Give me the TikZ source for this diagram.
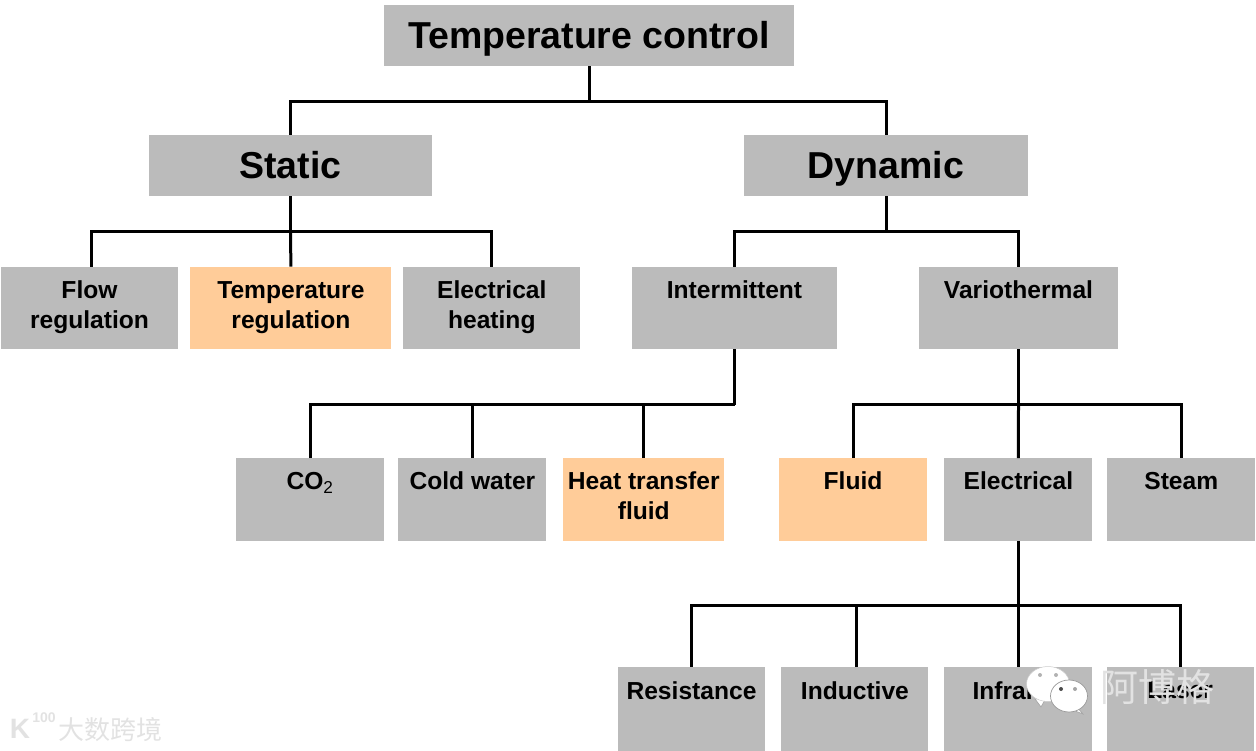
\documentclass[tikz,border=0pt]{standalone}
\usepackage{fontspec}
\setmainfont{Liberation Sans}
\newfontfamily\cjk{Noto Sans CJK SC}
\usepackage{xcolor}
\usetikzlibrary{shapes.geometric,positioning,calc}
\definecolor{boxgray}{HTML}{BBBBBB}
\definecolor{boxorange}{HTML}{FFCC99}
\definecolor{markgray}{HTML}{E2E2E2}
% extra depth keeps the lines in the upper part of the box
\newcommand{\lowstrut}{\rule[-7pt]{0pt}{0pt}}
\begin{document}
\begin{tikzpicture}[
    x=1pt, y=-1pt,
    node distance=12pt,
    box/.style={fill=boxgray, inner sep=0pt, font=\bfseries},
    hot/.style={box, fill=boxorange},
    rootbox/.style={box, minimum height=61pt, text height=27pt, text depth=0pt, font=\bfseries\fontsize{37.5}{40}\selectfont},
    leafbox/.style={minimum height=82.5pt, align=center, font=\bfseries\fontsize{24.6}{30}\selectfont},
    link/.style={draw=black, line width=3pt},
    stamp/.style={inner sep=0pt, text=markgray},
]
\useasboundingbox (0,0) rectangle (1256,751);

\node[rootbox, minimum width=410pt] (control) at (589,35.5) {Temperature control};
\node[rootbox, minimum width=283pt] (static)  at (290.5,165.5) {Static};
\node[rootbox, minimum width=284pt] (dynamic) at (886,165.5) {Dynamic};

\node[box, leafbox, minimum width=177pt] (flow) at (89.5,308) {Flow\\regulation\lowstrut};
\node[hot, leafbox, minimum width=201pt, right=12pt of flow] (tempreg) {\rule{0pt}{18pt}Temperature\\regulation\lowstrut};
\node[box, leafbox, minimum width=177pt, right=11.5pt of tempreg] (heating) {Electrical\\heating\lowstrut};
\node[box, leafbox, minimum width=205pt] (inter) at (734.5,308) {Intermittent\\~\lowstrut};
\node[box, leafbox, minimum width=199pt] (vario) at (1018.5,308) {Variothermal\\~\lowstrut};

\node[box, leafbox, minimum width=148pt] (co2) at (310,499.5) {CO\textsubscript{\mdseries 2}\\~\lowstrut};
\node[box, leafbox, minimum width=148pt, right=14pt of co2] (cold) {Cold water\\~\lowstrut};
\node[hot, leafbox, minimum width=161pt, right=16.5pt of cold] (transfer) {Heat transfer\\fluid\lowstrut};
\node[hot, leafbox, minimum width=148pt] (fluid) at (853,499.5) {Fluid\\~\lowstrut};
\node[box, leafbox, minimum width=148pt, right=17pt of fluid] (electrical) {Electrical\\~\lowstrut};
\node[box, leafbox, minimum width=148pt, right=14.5pt of electrical] (steam) {Steam\\~\lowstrut};

\node[box, leafbox, minimum width=147pt, minimum height=84pt] (resist) at (691.5,709) {Resistance\\~\lowstrut};
\node[box, leafbox, minimum width=147pt, minimum height=84pt, right=16pt of resist] (induct) {Inductive\\~\lowstrut};
\node[box, leafbox, minimum width=148pt, minimum height=84pt, right=15.5pt of induct] (infra) {Infrared\\~\lowstrut};
\node[box, leafbox, minimum width=147pt, minimum height=84pt, right=14pt of infra] (laser) {Laser\\~\lowstrut};

% bus lines
\coordinate (busroot) at (control.south |- 0,101.5);
\coordinate (busstatic) at (static.south |- 0,231.5);
\coordinate (busdyn) at (dynamic.south |- 0,232);
\coordinate (businter) at (inter.south |- 0,404.5);
\coordinate (busvario) at (vario.south |- 0,404.5);
\coordinate (buselec) at (electrical.south |- 0,605);

\draw[link] (control.south) -- (busroot);
\draw[link] (static.north) |- (busroot) -| (dynamic.north);

\draw[link] (static.south) -- (busstatic);
\draw[link] ([xshift=1.5pt]flow.north) |- (busstatic) -| (heating.north);
\draw[link] (busstatic) -- (tempreg.north);

\draw[link] (dynamic.south) -- (busdyn);
\draw[link] (inter.north) |- (busdyn) -| (vario.north);

\draw[link] (inter.south) -- (businter);
\draw[link] (co2.north) |- (businter);
\draw[link] (cold.north) -- (cold.north |- businter);
\draw[link] (transfer.north) -- (transfer.north |- businter);

\draw[link] (vario.south) -- (busvario);
\draw[link] (fluid.north) |- (busvario) -| (steam.north);
\draw[link] (busvario) -- (electrical.north);

\draw[link] (electrical.south) -- (buselec);
\draw[link] (resist.north) |- (buselec) -| (laser.north);
\draw[link] ([xshift=1.5pt]induct.north) -- ([xshift=1.5pt]induct.north |- buselec);
\draw[link] (infra.north) -- (infra.north |- buselec);

% watermark
\fill[white, draw=gray!70, line width=0.7pt] (1035,699) -- (1041,707) -- (1046,698) -- cycle;
\node[ellipse, fill=white, draw=gray!40, line width=0.5pt, minimum width=43pt, minimum height=35pt, inner sep=0pt] (bubbleback) at (1048,684) {};
\fill[white, draw=gray!70, line width=0.7pt] (1076,706) -- (1083,714) -- (1070,709) -- cycle;
\node[ellipse, fill=white, draw=gray!80, line width=0.7pt, minimum width=37pt, minimum height=32pt, inner sep=0pt] (bubblefront) at (1069,696) {};
\fill[gray!60] (1040,675) circle (2pt) (1056,675) circle (2pt);
\fill[black!70] (1061,689) circle (2pt);
\fill[gray!70] (1075,689) circle (2pt);

\node[stamp, font=\cjk\fontsize{38}{40}\selectfont] (stampmain) at (1157,687) {阿博格};
\node[stamp, font=\cjk\fontsize{26}{28}\selectfont] (stampcn) at (110,730) {大数跨境};
\node[stamp, font=\bfseries\fontsize{28}{28}\selectfont] (stampk) at (20,729) {K};
\node[stamp, font=\bfseries\fontsize{14}{14}\selectfont] (stampnum) at (44,718) {100};
\end{tikzpicture}
\end{document}
